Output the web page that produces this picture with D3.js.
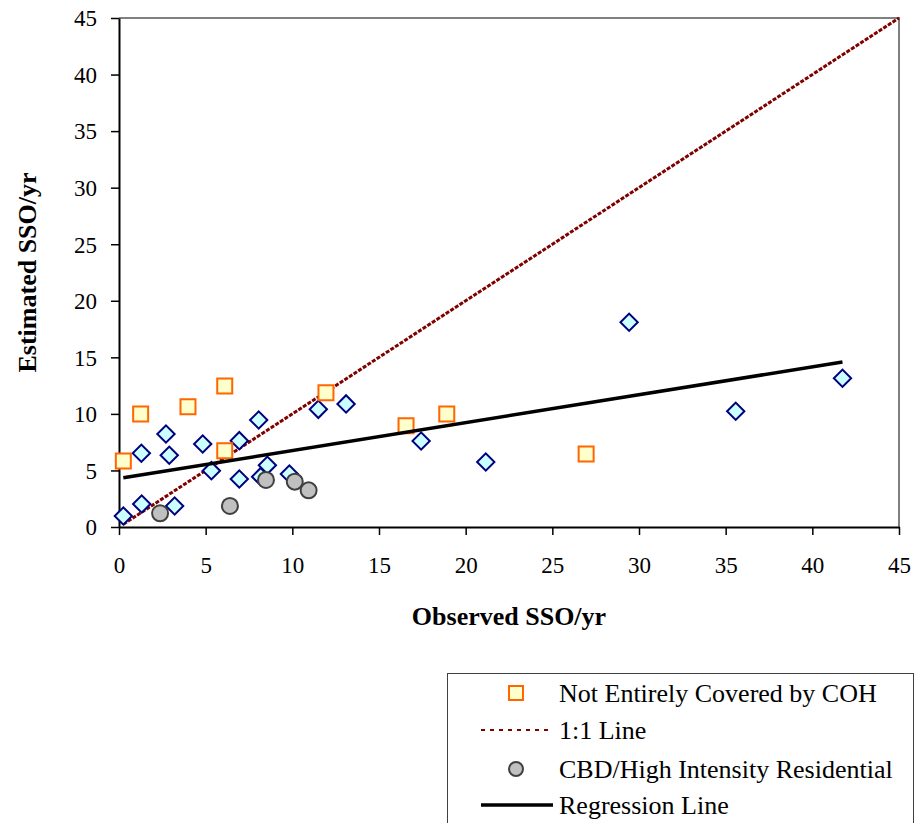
<!DOCTYPE html>
<html>
<head>
<meta charset="utf-8">
<script src="https://cdn.jsdelivr.net/npm/d3@7"></script>
<style>
  body { margin: 0; background: #fff; }
  svg { display: block; }
  text { font-family: "Liberation Serif", "Times New Roman", serif; }
</style>
</head>
<body>
<div id="chart"></div>
<script>
// observed / estimated SSO per year
var diamondX = [0.25, 1.31, 1.29, 2.71, 2.90, 3.21, 4.83, 5.33, 6.94, 6.94, 8.06, 8.56, 8.17, 9.83, 11.50, 13.10, 17.43, 21.16, 29.43, 35.58, 41.74];
var diamondY = [0.97, 2.03, 6.52, 8.22, 6.34, 1.86, 7.34, 4.98, 7.63, 4.24, 9.46, 5.45, 4.45, 4.69, 10.40, 10.88, 7.60, 5.75, 18.10, 10.23, 13.15];

var cohX = [0.25, 1.25, 3.98, 6.10, 6.10, 11.94, 16.56, 18.91, 26.95];
var cohY = [5.84, 9.99, 10.64, 12.47, 6.75, 11.87, 8.96, 9.99, 6.45];

var cbdX = [2.37, 6.40, 8.48, 10.14, 10.94];
var cbdY = [1.21, 1.86, 4.16, 4.01, 3.24];

var oneToOneX = [0.25, 45];
var oneToOneY = [0.25, 45];

var regressionX = [0.25, 41.74];
var regressionY = [4.35, 14.59];

var tickValues = [0, 5, 10, 15, 20, 25, 30, 35, 40, 45];

var legendLabels = ["Not Entirely Covered by COH", "1:1 Line", "CBD/High Intensity Residential", "Regression Line"];

function zipPoints(xs, ys) {
  return xs.map(function (d, i) { return { x: d, y: ys[i] }; });
}

var width = 915, height = 823;
var plot = { left: 119, right: 899, top: 18, bottom: 527 };

var svg = d3.select("#chart").append("svg")
  .attr("width", width)
  .attr("height", height);

var x = d3.scaleLinear().domain([0, 45]).range([plot.left, plot.right]);
var y = d3.scaleLinear().domain([0, 45]).range([plot.bottom, plot.top]);

// top and right frame
svg.append("path")
  .attr("d", "M" + plot.left + "," + plot.top + "H" + plot.right + "V" + plot.bottom)
  .attr("fill", "none")
  .attr("stroke", "#808080")
  .attr("stroke-width", 2);

var xAxis = svg.append("g")
  .attr("transform", "translate(0," + plot.bottom + ")")
  .call(d3.axisBottom(x).tickValues(tickValues).tickSize(8).tickSizeOuter(0).tickPadding(22));

var yAxis = svg.append("g")
  .attr("transform", "translate(" + plot.left + ",0)")
  .call(d3.axisLeft(y).tickValues(tickValues).tickSize(8).tickSizeOuter(0).tickPadding(14));

[xAxis, yAxis].forEach(function (g) {
  g.select(".domain").attr("stroke", "#000").attr("stroke-width", 2);
  g.selectAll(".tick line").attr("stroke", "#000").attr("stroke-width", 1.5);
  g.selectAll(".tick text")
    .attr("font-family", "'Liberation Serif', 'Times New Roman', serif")
    .attr("font-size", 23)
    .attr("fill", "#000");
});
yAxis.selectAll(".tick text").attr("dy", "0.34em");

// axis titles
svg.append("text")
  .attr("x", (plot.left + plot.right) / 2)
  .attr("y", 625)
  .attr("text-anchor", "middle")
  .attr("font-size", 26)
  .attr("font-weight", "bold")
  .text("Observed SSO/yr");

svg.append("text")
  .attr("transform", "translate(36," + (plot.top + plot.bottom) / 2 + ") rotate(-90)")
  .attr("text-anchor", "middle")
  .attr("font-size", 26)
  .attr("font-weight", "bold")
  .text("Estimated SSO/yr");

var line = d3.line()
  .x(function (d) { return x(d.x); })
  .y(function (d) { return y(d.y); });

// 1:1 line
svg.append("path")
  .datum(zipPoints(oneToOneX, oneToOneY))
  .attr("d", line)
  .attr("fill", "none")
  .attr("stroke", "#800000")
  .attr("stroke-width", 3)
  .attr("stroke-dasharray", "4,1.5");

// all catchments (diamonds)
svg.append("g").selectAll("path")
  .data(zipPoints(diamondX, diamondY))
  .enter()
  .append("path")
  .attr("d", d3.symbol().type(d3.symbolSquare).size(150))
  .attr("transform", function (d) { return "translate(" + x(d.x) + "," + y(d.y) + ") rotate(45)"; })
  .attr("fill", "#ccffff")
  .attr("stroke", "#000080")
  .attr("stroke-width", 2);

// not entirely covered by COH (squares)
svg.append("g").selectAll("path")
  .data(zipPoints(cohX, cohY))
  .enter()
  .append("path")
  .attr("d", d3.symbol().type(d3.symbolSquare).size(225))
  .attr("transform", function (d) { return "translate(" + x(d.x) + "," + y(d.y) + ")"; })
  .attr("fill", "#ffffcc")
  .attr("stroke", "#ff6600")
  .attr("stroke-width", 2);

// CBD (circles)
svg.append("g").selectAll("circle")
  .data(zipPoints(cbdX, cbdY))
  .enter()
  .append("circle")
  .attr("cx", function (d) { return x(d.x); })
  .attr("cy", function (d) { return y(d.y); })
  .attr("r", 8)
  .attr("fill", "#c0c0c0")
  .attr("stroke", "#404040")
  .attr("stroke-width", 2);

// regression line
svg.append("path")
  .datum(zipPoints(regressionX, regressionY))
  .attr("d", line)
  .attr("fill", "none")
  .attr("stroke", "#000")
  .attr("stroke-width", 3.5);

// legend
var legend = svg.append("g").attr("transform", "translate(447,673)");

legend.append("rect")
  .attr("x", 0.5)
  .attr("y", 0.5)
  .attr("width", 466)
  .attr("height", 170)
  .attr("fill", "#fff")
  .attr("stroke", "#404040")
  .attr("stroke-width", 1);

var rowY = [20, 57, 96, 132];

legend.append("rect")
  .attr("x", 62).attr("y", rowY[0] - 7)
  .attr("width", 14).attr("height", 14)
  .attr("fill", "#ffffcc").attr("stroke", "#ff6600").attr("stroke-width", 2);

legend.append("line")
  .attr("x1", 34).attr("x2", 104)
  .attr("y1", rowY[1]).attr("y2", rowY[1])
  .attr("stroke", "#800000").attr("stroke-width", 2)
  .attr("stroke-dasharray", "4,5");

legend.append("circle")
  .attr("cx", 69).attr("cy", rowY[2]).attr("r", 7)
  .attr("fill", "#c0c0c0").attr("stroke", "#404040").attr("stroke-width", 2);

legend.append("line")
  .attr("x1", 34).attr("x2", 106)
  .attr("y1", rowY[3]).attr("y2", rowY[3])
  .attr("stroke", "#000").attr("stroke-width", 3.5);

legend.selectAll("text.label")
  .data(legendLabels)
  .enter()
  .append("text")
  .attr("class", "label")
  .attr("x", 112)
  .attr("y", function (d, i) { return rowY[i]; })
  .attr("dy", "0.33em")
  .attr("font-size", 26)
  .attr("fill", "#000")
  .text(function (d) { return d; });
</script>
</body>
</html>
